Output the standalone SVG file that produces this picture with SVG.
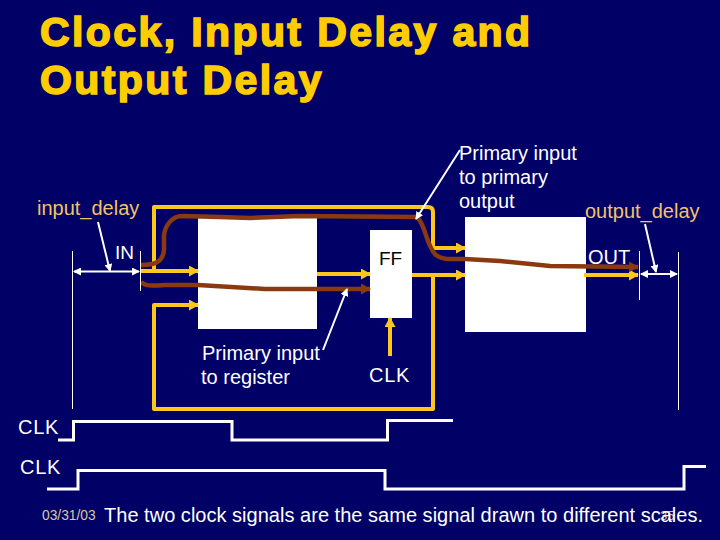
<svg xmlns="http://www.w3.org/2000/svg" width="720" height="540" viewBox="0 0 720 540">
<defs>
<marker id="ya" markerUnits="userSpaceOnUse" markerWidth="11" markerHeight="11" refX="9" refY="5.5" orient="auto"><path d="M0 0L10 5.5L0 11Z" fill="#ffc61e"/></marker>
<marker id="ba" markerUnits="userSpaceOnUse" markerWidth="11" markerHeight="11" refX="9" refY="5.5" orient="auto"><path d="M0 0L10 5.5L0 11Z" fill="#8b3a10"/></marker>
<marker id="wa" markerUnits="userSpaceOnUse" markerWidth="8" markerHeight="8" refX="7" refY="4" orient="auto"><path d="M0 0L8 4L0 8Z" fill="#fff"/></marker>
<marker id="ws" markerUnits="userSpaceOnUse" markerWidth="8" markerHeight="8" refX="1" refY="4" orient="auto"><path d="M8 0L0 4L8 8Z" fill="#fff"/></marker>
</defs>
<style>
text{font-family:"Liberation Sans",Arial,sans-serif;font-size:20px;fill:#fff}
.title{font-size:41px;font-weight:bold;fill:#ffcc00;stroke:#ffcc00;stroke-width:1.6px;letter-spacing:2.4px}
.tan{fill:#f0c468}
.box{fill:#fff}
.y{fill:none;stroke:#ffc61e;stroke-width:4;stroke-linejoin:round}
.b{fill:none;stroke:#8b3a10;stroke-width:4.500}
.w{fill:none;stroke:#fff;stroke-width:2}
.t{fill:none;stroke:#fff;stroke-width:1}
.c{fill:none;stroke:#fff;stroke-width:3}
.s{letter-spacing:.7px}
</style>
<rect width="720" height="540" fill="#000066"/>
<g id="title"><text class="title" x="40" y="46">Clock, Input Delay and</text><text class="title" x="40" y="94">Output Delay</text></g>
<g id="box-left"><rect class="box" x="198" y="218" width="119" height="111"/></g>
<g id="node-ff"><rect class="box" x="370" y="230" width="42" height="88"/><text x="379" y="265" style="fill:#000;font-size:19px">FF</text></g>
<g id="box-right"><rect class="box" x="465" y="217" width="121" height="115"/></g>
<g id="connectors">
<path class="y" d="M154 271V207H428Q433 207 433 212V248H465" marker-end="url(#ya)"/>
<path class="y" d="M141 271H198" marker-end="url(#ya)"/>
<path class="y" d="M197 305H154V409H433V275"/>
<path class="y" d="M197 305H198" marker-end="url(#ya)"/>
<path class="y" d="M317 274H370" marker-end="url(#ya)"/>
<path class="y" d="M412 275H465" marker-end="url(#ya)"/>
<path class="y" d="M584 275H638" marker-end="url(#ya)"/>
<path class="y" d="M390 356V318" marker-end="url(#ya)"/>
<path class="b" d="M141 265C155 265 163 262 164 250V235C165 226 172 216 182 216L220 217L250 218L300 216L417 217C426 225 426 246 436 255C442 260 450 259 465 259L500 261L550 266L638 267" marker-end="url(#ba)"/>
<path class="b" d="M141 282C145 286 150 286 165 285L198 285L265 289L370 289" marker-end="url(#ba)"/>
<path class="t" d="M72.500 251V409M140.500 251V291M639.500 251V300M678.500 252V410"/>
<path class="w" d="M74 271.500H139" marker-start="url(#ws)" marker-end="url(#wa)"/>
<path class="w" d="M641 274H677" marker-start="url(#ws)" marker-end="url(#wa)"/>
<path class="w" d="M98 222L110 271" marker-end="url(#wa)"/>
<path class="w" d="M645 224L656 272" marker-end="url(#wa)"/>
<path class="w" d="M323 350L347 289" marker-end="url(#wa)"/>
<path class="w" d="M460 150L416 219" marker-end="url(#wa)"/>
<path class="c" d="M58 440H73.500V421.500H232V440H387.500V420.500H453"/>
<path class="c" d="M47 489H78V470.500H385V489H684V466.500H706"/>
</g>
<g id="labels">
<text class="tan" x="37" y="215">input_delay</text>
<text class="tan" x="585" y="218">output_delay</text>
<text x="115" y="259" style="font-size:19px">IN</text>
<text x="588" y="264">OUT</text>
<text x="202" y="360">Primary input</text>
<text x="201" y="384">to register</text>
<text x="459" y="160">Primary input</text>
<text x="459" y="184">to primary</text>
<text x="459" y="208">output</text>
<text class="s" x="369" y="382">CLK</text>
<text class="s" x="18" y="434">CLK</text>
<text class="s" x="20" y="474">CLK</text>
<text x="42" y="520" style="font-size:13.800px;fill:#d8c8a8">03/31/03</text>
<text x="660" y="520" style="font-size:13px;fill:#d8c080">35</text>
<text x="104" y="522" style="letter-spacing:.02px">The two clock signals are the same signal drawn to different scales.</text>
</g>
</svg>
